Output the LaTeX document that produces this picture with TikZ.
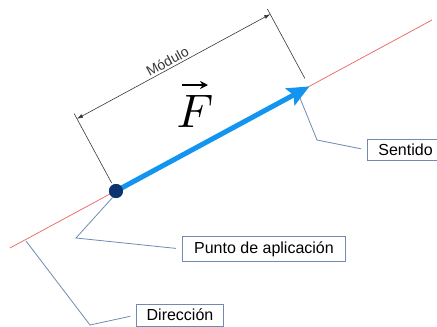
\documentclass[tikz,border=0pt]{standalone}
\usepackage{fontspec}
\newfontfamily\etiqfont{Liberation Sans}
\usepackage{xcolor}
\usetikzlibrary{positioning,arrows.meta}

\definecolor{fuerza}{RGB}{18,148,240}
\definecolor{puntoazul}{RGB}{12,52,112}
\definecolor{rectarojo}{RGB}{236,96,96}
\definecolor{guia}{RGB}{112,138,176}
\definecolor{cota}{RGB}{55,55,55}

\begin{document}
\begin{tikzpicture}[
        x=1pt, y=-1pt,
        recta/.style={line width=0.7pt, rectarojo},
        vector/.style={-{Stealth[length=22pt, width=19pt, inset=4pt]}, line width=5pt, fuerza},
        cotaline/.style={line width=0.6pt, cota},
        cotaarr/.style={cotaline, {Latex[length=6pt, width=4pt]}-{Latex[length=6pt, width=4pt]}},
        callout/.style={line width=0.8pt, guia, shorten >=6pt},
        etiqueta/.style={
            draw=guia,
            line width=0.8pt,
            fill=white,
            inner xsep=10pt,
            inner ysep=5pt,
            font=\etiqfont\fontsize{16}{19}\selectfont
        }
    ]
        \useasboundingbox (0,0) rectangle (437,327);

        % Recta soporte (direccion)
        \coordinate (dirA) at (10,248);
        \coordinate (dirB) at (432,20);
        \draw[recta] (dirA) -- (dirB);

        % Vector fuerza y punto de aplicacion
        \coordinate (tip) at (309.5,86.4);
        \node[circle, fill=puntoazul, inner sep=0pt, minimum size=14pt] (punto) at (116,191) {};
        \draw[vector] (punto.center) -- (tip);
        \node[circle, fill=puntoazul, inner sep=0pt, minimum size=14pt] at (punto) {};

        % Simbolo F con flecha
        \node[scale=4.7, inner sep=0pt, anchor=base] (F) at (195,127) {$F$};
        \draw[-{Stealth[length=8pt, width=8pt]}, line width=2.2pt, black]
            ([shift={(-13,-42)}]F.base) -- ([shift={(13,-42)}]F.base);

        % Cota del modulo
        \coordinate (ext1a) at (74.2,113.6);
        \coordinate (ext1b) at (111.7,183.1);
        \coordinate (ext2a) at (267.4,9);
        \coordinate (ext2b) at (304.9,78.5);
        \draw[cotaline] (ext1a) -- (ext1b);
        \draw[cotaline] (ext2a) -- (ext2b);
        \coordinate (cota1) at (77,118.8);
        \coordinate (cota2) at (270.2,14.2);
        \draw[cotaarr] (cota1) -- node[midway, above, sloped, inner sep=2pt, xshift=-3pt,
            font=\etiqfont\fontsize{14}{16}\selectfont] (modulo) {Módulo} (cota2);

        % Etiquetas
        \node[etiqueta, anchor=west, inner xsep=11pt] (sentido) at (367,150) {Sentido};
        \node[etiqueta, inner xsep=12pt] (aplic) at (264,249) {Punto de aplicación};
        \node[etiqueta] (direc) at (180,315) {Dirección};

        % Lineas guia
        \coordinate (s0) at (300,98);
        \coordinate (s1) at (317,140);
        \draw[callout] (s0) -- (s1) -- (sentido.west);

        \coordinate (p0) at (113,197);
        \coordinate (p1) at (76,238);
        \draw[callout] (p0) -- (p1) -- (aplic.west);

        \coordinate (d0) at (26,241);
        \coordinate (d1) at (90,325);
        \draw[callout] (d0) -- (d1) -- (direc.west);
    \end{tikzpicture}
\end{document}
